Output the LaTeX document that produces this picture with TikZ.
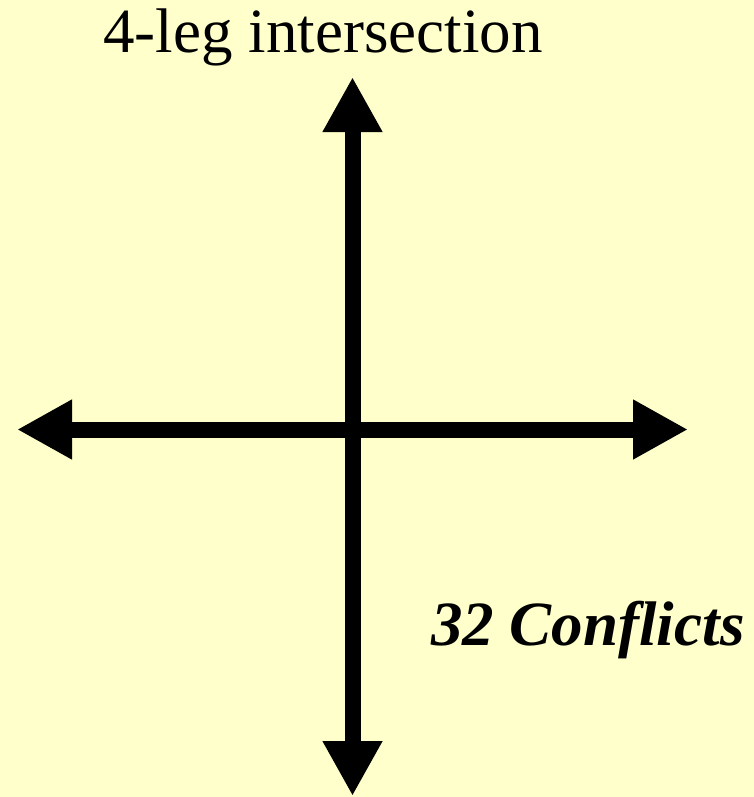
\documentclass[tikz,border=0pt]{standalone}
\usepackage{fontspec}
\setmainfont{Liberation Serif}
\usepackage{xcolor}
\usetikzlibrary{positioning,arrows.meta}
\definecolor{paper}{HTML}{FFFFCC}

\begin{document}
\begin{tikzpicture}[
    x=1pt, y=-1pt,
    leg/.style={{Triangle[length=55pt, width=56pt]}-{Triangle[length=55pt, width=56pt]}, line width=16pt, draw=black},
    title/.style={font=\fontsize{63}{66}\selectfont, inner sep=0pt, anchor=base},
    count/.style={font=\fontsize{63}{66}\selectfont\bfseries\itshape, inner sep=0pt, anchor=base west}
]

\fill[paper] (0,0) rectangle (754,797);
\useasboundingbox (0,0) rectangle (754,797);

% approach legs
\coordinate (north) at (352.5,77);
\coordinate (south) at (352.5,796);
\coordinate (west)  at (17,429.5);
\coordinate (east)  at (688,429.5);

\draw[leg] (west) -- (east);
\draw[leg] (south) -- (north);

\node[title] (head)  at (323,53)  {4-leg intersection};
\node[count] (confl) at (431,645) {32 Conflicts};

\end{tikzpicture}
\end{document}
